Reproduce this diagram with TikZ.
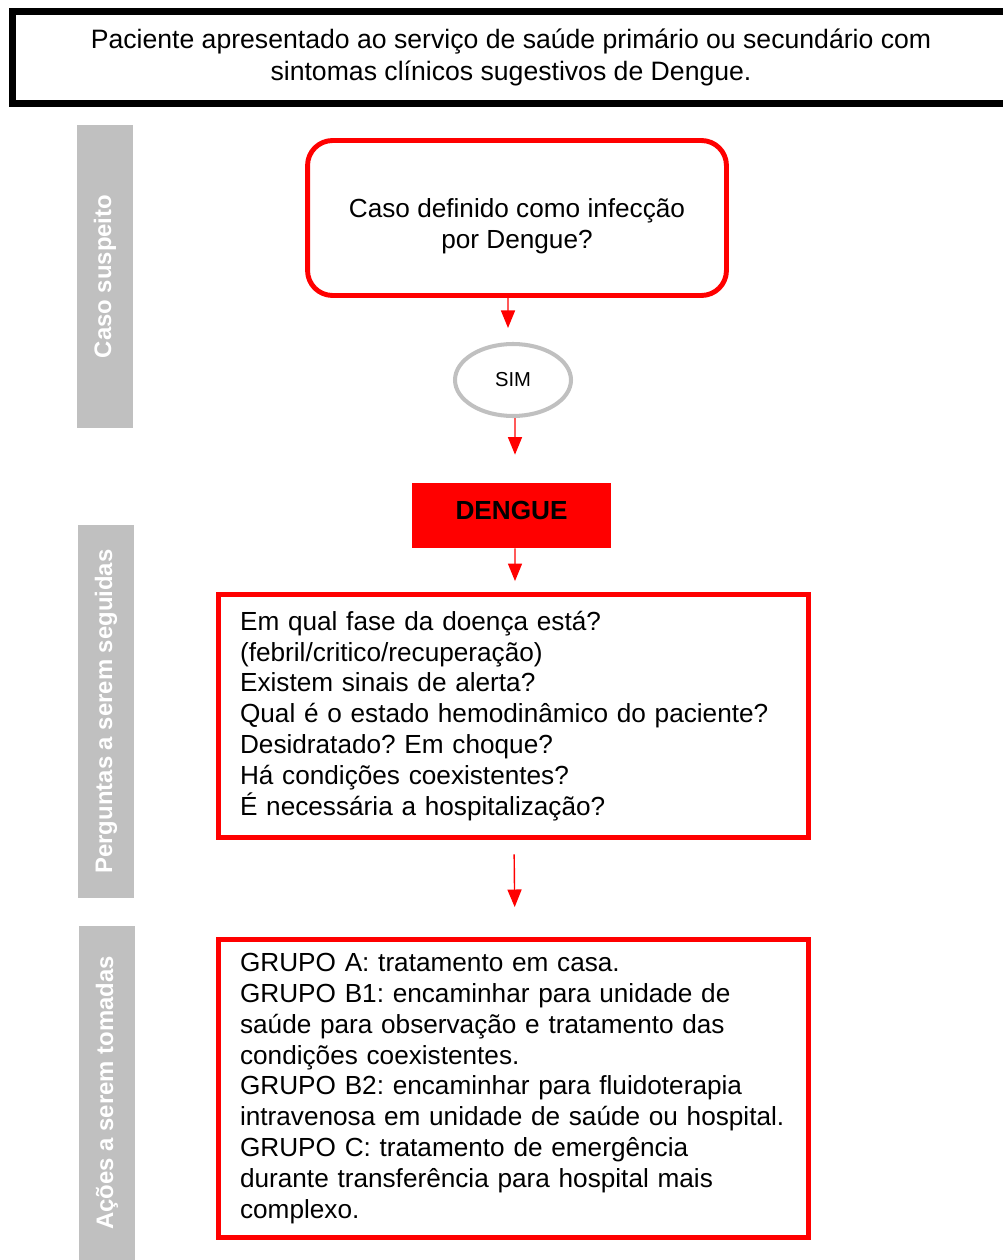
\documentclass[tikz,border=0pt]{standalone}
\usepackage{fontspec}
\setmainfont{Liberation Sans}
\usetikzlibrary{arrows.meta,shapes.geometric}
\definecolor{cinza}{RGB}{192,192,192}
\definecolor{vermelho}{RGB}{255,0,0}
\frenchspacing
\begin{document}
\begin{tikzpicture}[x=0.02cm,y=-0.02cm,
        texto/.style={font=\fontsize{14.9}{17.6}\selectfont},
        caixa/.style={texto,draw=vermelho,line width=2.8pt,align=left,inner xsep=0.43cm,text width=10.94cm,minimum width=11.8cm},
        faixa/.style={fill=cinza,text=white,font=\bfseries\fontsize{13.6}{16}\selectfont,rotate=90,inner sep=0,minimum height=1.12cm},
        seta/.style={draw=vermelho,line width=0.8pt,-{Triangle[width=8pt,length=10pt]}}]
            \useasboundingbox (0,0) rectangle (1003,1260);
            
            \node[draw,line width=4pt,align=center,minimum width=19.96cm,minimum height=1.85cm,font=\fontsize{15.15}{18.2}\selectfont] (paciente) at (511,57.5) {Paciente apresentado ao serviço de saúde primário ou secundário com\\sintomas clínicos sugestivos de Dengue.}; %caixa do topo
            
            \node[faixa,minimum width=6.06cm] (suspeito) at (105,276.5) {Caso suspeito}; %faixa 1
            \node[faixa,minimum width=7.46cm] (perguntas) at (106,711.5) {Perguntas a serem seguidas}; %faixa 2
            \node[faixa,minimum width=6.68cm] (acoes) at (107,1093) {Ações a serem tomadas}; %faixa 3
            
            \node[texto,draw=vermelho,line width=2.8pt,rounded corners=0.5cm,minimum width=8.38cm,minimum height=3.1cm] (caso) at (517,218) {\raisebox{-0.18cm}[\height][\depth]{\begin{tabular}{@{}c@{}}Caso definido como infecção\\por Dengue?\end{tabular}}}; %pergunta
            
            \node[ellipse,draw=cinza,line width=2.3pt,minimum width=2.32cm,minimum height=1.44cm,font=\fontsize{11.5}{13}\selectfont] (sim) at (513,380) {SIM}; %SIM
            
            \node[fill=vermelho,font=\bfseries\fontsize{14.9}{17.6}\selectfont,minimum width=3.98cm,minimum height=1.3cm] (dengue) at (511.5,515.5) {\raisebox{0.1cm}[\height][\depth]{DENGUE}}; %DENGUE
            
            \node[caixa,minimum height=4.86cm] (fase) at (513.5,716) {Em qual fase da doença está?\\(febril/critico/recuperação)\\Existem sinais de alerta?\\Qual é o estado hemodinâmico do paciente?\\Desidratado? Em choque?\\Há condições coexistentes?\\É necessária a hospitalização?}; %perguntas
            
            \node[caixa,minimum height=5.96cm] (grupos) at (513.5,1088.5) {GRUPO A: tratamento em casa.\\GRUPO B1: encaminhar para unidade de\\saúde para observação e tratamento das\\condições coexistentes.\\GRUPO B2: encaminhar para fluidoterapia\\intravenosa em unidade de saúde ou hospital.\\GRUPO C: tratamento de emergência\\durante transferência para hospital mais\\complexo.}; %grupos
            
            \draw[seta,shorten >=0.28cm] ([xshift=-0.18cm]caso.south) -- ([xshift=-0.1cm]sim.north);
            \draw[seta,shorten >=0.56cm] ([xshift=0.04cm]sim.south) -- ([xshift=0.07cm]dengue.north);
            \draw[seta,shorten >=0.22cm] ([xshift=0.07cm]dengue.south) -- ([xshift=0.03cm]fase.north);
            \draw[seta,shorten <=0.29cm,shorten >=0.6cm] ([xshift=0.01cm]fase.south) -- ([xshift=0.03cm]grupos.north);
        \end{tikzpicture}
\end{document}
